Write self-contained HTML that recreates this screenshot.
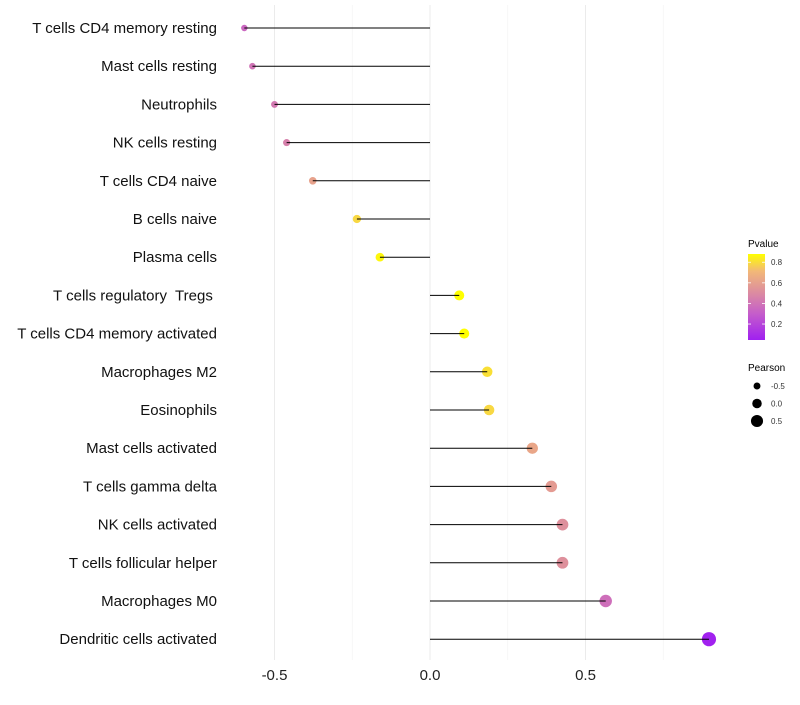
<!DOCTYPE html>
<html><head><meta charset="utf-8"><style>
body{margin:0;background:#fff;font-family:"Liberation Sans",sans-serif}
text{white-space:pre}
</style></head><body>
<svg id="c" width="800" height="700" xmlns="http://www.w3.org/2000/svg" font-family="Liberation Sans, sans-serif">
<defs><linearGradient id="pg" x1="0" y1="1" x2="0" y2="0">
<stop offset="0" stop-color="#A020F0"/><stop offset="0.3" stop-color="#C45CCB"/><stop offset="0.55" stop-color="#DC8CA0"/><stop offset="0.8" stop-color="#F2B878"/><stop offset="1" stop-color="#FFFF00"/></linearGradient></defs>
<g id="grid"></g><g id="dots"></g><g id="marks"></g><g id="labels"></g>
<g>
<text x="748" y="247" font-size="10">Pvalue</text>
<rect x="748" y="254" width="17" height="86" fill="url(#pg)"/>
<g id="cticks"></g>
</g>
<g>
<text x="748" y="371" font-size="10">Pearson</text>
<g id="sleg"></g>
</g>
</svg>
<script>
const categories=["T cells CD4 memory resting","Mast cells resting","Neutrophils","NK cells resting","T cells CD4 naive","B cells naive","Plasma cells","T cells regulatory  Tregs ","T cells CD4 memory activated","Macrophages M2","Eosinophils","Mast cells activated","T cells gamma delta","NK cells activated","T cells follicular helper","Macrophages M0","Dendritic cells activated"];
const pearson=[-0.597,-0.571,-0.50,-0.461,-0.377,-0.235,-0.161,0.094,0.11,0.184,0.19,0.329,0.39,0.426,0.426,0.565,0.897];
const pvalue=[0.35,0.40,0.42,0.45,0.60,0.78,0.86,0.90,0.92,0.80,0.78,0.62,0.57,0.52,0.52,0.38,0.05];
const xTicks=[-0.5,0,0.5];
const xTickLabels=["-0.5","0.0","0.5"];
const pTicks=[0.2,0.4,0.6,0.8];
const sizeTicks=[-0.5,0,0.5];
const NS="http://www.w3.org/2000/svg";
const X=v=>430+v*311;
const Y=i=>28+i*38.2;
const R=v=>3.2+(v+0.6)*2.6;
const PY=p=>340-(p-0.045)/(0.88-0.045)*86;
const stops=[[0.045,[160,32,240]],[0.3,[196,92,203]],[0.5,[220,140,160]],[0.7,[242,184,120]],[0.88,[255,255,0]]];
function col(p){if(p<=stops[0][0])return"rgb(160,32,240)";for(let k=1;k<stops.length;k++){if(p<=stops[k][0]||k==stops.length-1){const a=stops[k-1],b=stops[k];let t=Math.min(1,(p-a[0])/(b[0]-a[0]));return"rgb("+a[1].map((c,j)=>Math.round(c+(b[1][j]-c)*t)).join(",")+")";}}}
function mk(t,a,par){const e=document.createElementNS(NS,t);for(const k in a)e.setAttribute(k,a[k]);document.getElementById(par).appendChild(e);return e;}
[-0.25,0.25,0.75].forEach(v=>{const l=mk("line",{x1:X(v),x2:X(v),y1:5,y2:660,stroke:"#f2f2f2","stroke-width":0.6},"grid");

});
xTicks.forEach((v,i)=>{const l=mk("line",{x1:X(v),x2:X(v),y1:5,y2:660,stroke:"#ebebeb","stroke-width":1},"grid");


const t=mk("text",{x:X(v),y:680,"font-size":"15","text-anchor":"middle",fill:"#222"},"labels");t.textContent=xTickLabels[i];

});
categories.forEach((c,i)=>{const t=mk("text",{x:217,y:Y(i)+5,"font-size":"15","text-anchor":"end",fill:"#111"},"labels");t.textContent=c;


const d=mk("circle",{cx:X(pearson[i]),cy:Y(i),r:R(pearson[i]),fill:col(pvalue[i])},"dots");


const l=mk("line",{x1:X(0),x2:X(pearson[i]),y1:Y(i),y2:Y(i),stroke:"#000","stroke-width":1},"marks");

});
pTicks.forEach(p=>{const y=PY(p);mk("line",{x1:748,x2:751,y1:y,y2:y,stroke:"#fff","stroke-width":0.8},"cticks");mk("line",{x1:762,x2:765,y1:y,y2:y,stroke:"#fff","stroke-width":0.8},"cticks");
const t=mk("text",{x:771,y:y+3,"font-size":"8",fill:"#333"},"cticks");t.textContent=p.toFixed(1);

});
sizeTicks.forEach((v,i)=>{const y=386+i*17.5;const d=mk("circle",{cx:757,cy:y,r:R(v),fill:"#000"},"sleg");


const t=mk("text",{x:771,y:y+3,"font-size":"8",fill:"#333"},"sleg");t.textContent=v.toFixed(1);

});
</script>
</body></html>
